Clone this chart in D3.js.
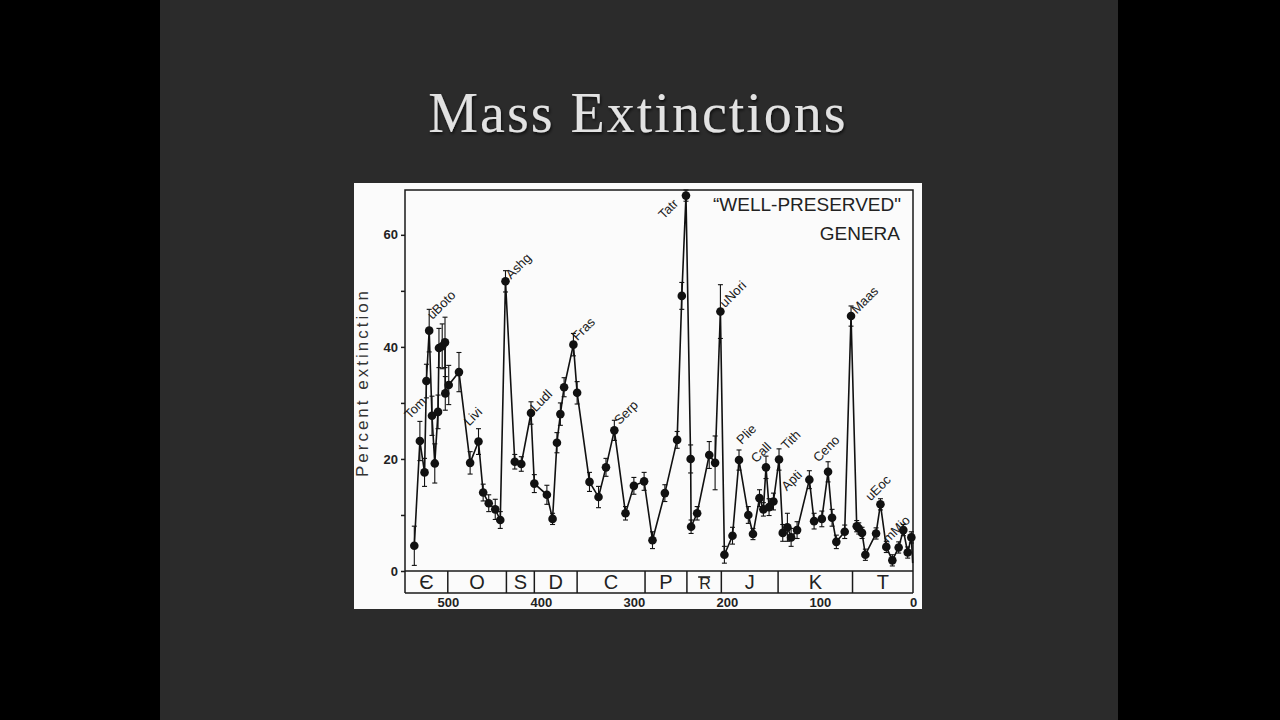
<!DOCTYPE html>
<html>
<head>
<meta charset="utf-8">
<script src="https://cdn.jsdelivr.net/npm/d3@7"></script>
<style>
  body { margin: 0; background: #000; }
  svg { display: block; }
</style>
</head>
<body>
<div id="chart"></div>
<script>
// ages (Myr before present), percent of genera extinct, half error bar
const ages = [536, 530, 525, 523, 520, 517, 514, 510.5, 509.5, 506, 503, 502.7, 499, 488, 476, 467, 462, 456, 449, 443.6,
              438, 428, 421, 410.6, 407, 393.5, 387.4, 382.7, 379, 375, 365, 361, 347.7, 338, 330, 321, 309, 300, 289, 280,
              266.7, 253.5, 248.5, 244, 239, 238.5, 232, 219, 212.7, 207, 202.7, 194, 187, 177, 172, 165, 160.8, 158, 154.7, 150,
              144, 140, 135, 131, 124.6, 111.4, 106.3, 98, 91.3, 87, 82.4, 73.4, 66.6, 60.5, 58.3, 54.8, 51.2, 39.7, 35, 28.7,
              22.2, 15.4, 10.4, 5.7, 1.8, 0.3];
const pcts = [4.5, 23.2, 17.6, 33.9, 42.9, 27.7, 19.2, 28.4, 39.8, 40.1, 40.8, 31.7, 33.2, 35.5, 19.3, 23.1, 14.0, 12.1, 11.0, 9.1,
              51.7, 19.5, 19.1, 28.2, 15.6, 13.6, 9.3, 22.9, 28.0, 32.8, 40.4, 31.8, 15.9, 13.2, 18.5, 25.1, 10.3, 15.2, 16.0, 5.5,
              13.9, 23.4, 49.1, 67.0, 20.0, 7.9, 10.3, 20.7, 19.3, 46.3, 2.9, 6.3, 19.8, 10.0, 6.6, 13.0, 11.0, 18.5, 11.4, 12.4,
              19.9, 6.8, 7.8, 6.0, 7.3, 16.3, 8.9, 9.3, 17.7, 9.5, 5.2, 7.0, 45.5, 8.0, 7.6, 6.8, 2.9, 6.7, 11.9, 4.3,
              1.9, 4.2, 7.3, 3.3, 6.0, 1.4];
const errs = [3.5, 3.5, 2.5, 3, 3.8, 3.5, 3.5, 3, 3.5, 4, 4.5, 3, 3.5, 3.5, 2, 2.3, 1.5, 1.5, 1.8, 1.5,
              1.9, 1.3, 1.3, 2, 1.6, 1.7, 1, 1.8, 2, 1.7, 2, 2, 1.7, 1.9, 1.6, 1.8, 1.2, 1.5, 1.6, 1.5,
              1.5, 1.5, 2.4, 1, 2.5, 1.2, 1.2, 2.4, 4.8, 4.8, 1.5, 1.5, 1.8, 1.5, 1, 1.5, 1.2, 2, 1.5, 1.5,
              1.9, 1.5, 2.5, 1.6, 1.5, 1.6, 1.4, 1.4, 1.8, 1.5, 1.2, 1.2, 1.8, 1, 1, 1, 1, 1, 1, 1,
              1, 1, 1, 1, 1, 0];

// stage names written beside the peaks, placed in data units
const peakNames = ["Tom", "uBoto", "Livi", "Ashg", "Ludl", "Fras", "Serp", "Tatr", "uNori",
                   "Plie", "Call", "Tith", "Apti", "Ceno", "Maas", "uEoc", "mMio"];
const peakAges = [541, 516.5, 477, 432, 405.6, 360.6, 315.4, 268, 202, 184, 168.6, 136, 135.6, 101.7, 60.5, 45.5, 26.5];
const peakPcts = [27, 44.8, 25.8, 52, 28.3, 41, 26, 62.7, 46.9, 22.5, 19.2, 21.5, 14.2, 19.3, 45.8, 12.4, 4.9];

// geologic periods along the time axis
const periodNames = ["Є", "O", "S", "D", "C", "P", "TR", "J", "K", "T"];
const periodBounds = [546, 500, 437, 407, 361, 288, 243, 206, 145, 65, 0];

const yTicks = [0, 10, 20, 30, 40, 50, 60];
const yLabels = [0, 20, 40, 60];
const xTicks = [500, 400, 300, 200, 100, 0];


class ExtinctionChart {
    constructor(container, box) {
        this.container = container;
        this.box = box;
        this.svg = null;
        this.setUpSVG();
        this.x = d3.scaleLinear().domain([546, 0]).range([box.left, box.right]);
        this.y = d3.scaleLinear().domain([0, 68]).range([box.bottom, box.top]);
        this.drawSlide();
        this.drawFrame();
        this.drawAxes();
        this.drawSeries();
        this.drawLabels();
    }

    setUpSVG() {
        this.svg = this.container.append("svg")
            .attr("width", 1280)
            .attr("height", 720)
            .attr("viewBox", "0 0 1280 720");
    }

    // dark slide with title and the white scanned figure
    drawSlide() {
        this.svg.append("rect").attr("width", 1280).attr("height", 720).attr("fill", "#000");
        this.svg.append("rect")
            .attr("x", 160).attr("y", 0)
            .attr("width", 958).attr("height", 720)
            .attr("fill", "#2b2b2b");

        const defs = this.svg.append("defs");
        defs.append("filter").attr("id", "shadow")
            .append("feDropShadow")
            .attr("dx", 1).attr("dy", 2).attr("stdDeviation", 1.5)
            .attr("flood-color", "#000").attr("flood-opacity", 0.7);

        this.svg.append("text")
            .attr("x", 638).attr("y", 132)
            .attr("text-anchor", "middle")
            .attr("font-family", "'Liberation Serif', 'DejaVu Serif', serif")
            .attr("font-size", 56)
            .attr("letter-spacing", 2)
            .attr("fill", "#e2e2e2")
            .attr("filter", "url(#shadow)")
            .text("Mass Extinctions");

        this.svg.append("rect")
            .attr("x", 354).attr("y", 183)
            .attr("width", 568).attr("height", 426)
            .attr("fill", "#fbfbfb");
    }

    drawFrame() {
        const b = this.box;
        const g = this.svg.append("g")
            .attr("stroke", "#1a1a1a")
            .attr("stroke-width", 1.5)
            .attr("fill", "none");

        g.append("path").attr("d", `M${b.left},${b.band}V${b.top}H${b.right}V${b.band}`);
        g.append("line").attr("x1", b.left).attr("x2", b.right).attr("y1", b.bottom).attr("y2", b.bottom);
        g.append("line").attr("x1", b.left).attr("x2", b.right).attr("y1", b.band).attr("y2", b.band);

        // period dividers inside the band
        g.selectAll(".divider")
            .data(periodBounds.slice(1, -1))
            .enter().append("line")
            .attr("x1", d => this.x(d)).attr("x2", d => this.x(d))
            .attr("y1", b.bottom).attr("y2", b.band);

        const names = this.svg.append("g")
            .attr("font-family", "'Liberation Sans Narrow', 'Liberation Sans', Arial, sans-serif")
            .attr("font-size", 20)
            .attr("fill", "#222")
            .attr("text-anchor", "middle");

        periodNames.forEach((name, i) => {
            const cx = (this.x(periodBounds[i]) + this.x(periodBounds[i + 1])) / 2;
            if (name === "TR") {
                // Triassic sign: an R under a T crossbar
                names.append("text").attr("x", cx + 1).attr("y", b.band - 4)
                    .attr("font-size", 16).text("R");
                names.append("line")
                    .attr("x1", cx - 6).attr("x2", cx + 6)
                    .attr("y1", b.bottom + 6).attr("y2", b.bottom + 6)
                    .attr("stroke", "#222").attr("stroke-width", 1.6);
                names.append("line")
                    .attr("x1", cx - 2.5).attr("x2", cx - 2.5)
                    .attr("y1", b.bottom + 6).attr("y2", b.bottom + 9)
                    .attr("stroke", "#222").attr("stroke-width", 1.6);
            } else {
                names.append("text").attr("x", cx).attr("y", b.band - 4).text(name);
            }
        });
    }

    drawAxes() {
        const b = this.box;
        const yAxis = d3.axisLeft(this.y)
            .tickValues(yTicks)
            .tickSize(4)
            .tickPadding(3)
            .tickFormat(d => yLabels.includes(d) ? d : "");

        const yg = this.svg.append("g")
            .attr("transform", `translate(${b.left},0)`)
            .call(yAxis);
        yg.select(".domain").remove();
        yg.selectAll("line").attr("stroke", "#1a1a1a").attr("stroke-width", 1.5);
        yg.selectAll("text")
            .attr("font-family", "'Liberation Sans', Arial, sans-serif")
            .attr("font-size", 13).attr("font-weight", "bold").attr("fill", "#222");

        const xAxis = d3.axisBottom(this.x)
            .tickValues(xTicks)
            .tickSize(0)
            .tickPadding(5);

        const xg = this.svg.append("g")
            .attr("transform", `translate(0,${b.band})`)
            .call(xAxis);
        xg.select(".domain").remove();
        xg.selectAll("text")
            .attr("font-family", "'Liberation Sans', Arial, sans-serif")
            .attr("font-size", 13).attr("font-weight", "bold").attr("fill", "#222");

        this.svg.append("text")
            .attr("transform", `translate(368,${(b.top + b.bottom) / 2 + 2}) rotate(-90)`)
            .attr("text-anchor", "middle")
            .attr("font-family", "'Liberation Sans', Arial, sans-serif")
            .attr("font-size", 17)
            .attr("letter-spacing", 3)
            .attr("fill", "#333")
            .text("Percent extinction");

        this.svg.append("text")
            .attr("x", 901).attr("y", 211)
            .attr("text-anchor", "end")
            .attr("font-family", "'Liberation Sans', Arial, sans-serif")
            .attr("font-size", 19)
            .attr("fill", "#222")
            .text("“WELL-PRESERVED\"");

        this.svg.append("text")
            .attr("x", 900).attr("y", 240)
            .attr("text-anchor", "end")
            .attr("font-family", "'Liberation Sans', Arial, sans-serif")
            .attr("font-size", 19)
            .attr("fill", "#222")
            .text("GENERA");
    }

    drawSeries() {
        const idx = d3.range(ages.length);
        const line = d3.line()
            .x(i => this.x(ages[i]))
            .y(i => this.y(pcts[i]));

        this.svg.append("path")
            .datum(idx)
            .attr("d", line)
            .attr("fill", "none")
            .attr("stroke", "#111")
            .attr("stroke-width", 1.6);

        // error bars with small caps
        const bars = this.svg.append("g")
            .attr("stroke", "#111")
            .attr("stroke-width", 1.1)
            .selectAll("g")
            .data(idx.filter(i => errs[i] > 0))
            .enter().append("g");

        bars.append("line")
            .attr("x1", i => this.x(ages[i])).attr("x2", i => this.x(ages[i]))
            .attr("y1", i => this.y(pcts[i] - errs[i])).attr("y2", i => this.y(pcts[i] + errs[i]));
        [-1, 1].forEach(s => {
            bars.append("line")
                .attr("x1", i => this.x(ages[i]) - 2.5).attr("x2", i => this.x(ages[i]) + 2.5)
                .attr("y1", i => this.y(pcts[i] + s * errs[i])).attr("y2", i => this.y(pcts[i] + s * errs[i]));
        });

        this.svg.append("g")
            .selectAll("circle")
            .data(idx.slice(0, -1))
            .enter().append("circle")
            .attr("cx", i => this.x(ages[i]))
            .attr("cy", i => this.y(pcts[i]))
            .attr("r", 4.3)
            .attr("fill", "#111");
    }

    drawLabels() {
        this.svg.append("g")
            .selectAll("text")
            .data(peakNames)
            .enter().append("text")
            .attr("transform", (d, i) => `translate(${this.x(peakAges[i])},${this.y(peakPcts[i])}) rotate(-45)`)
            .attr("font-family", "'Liberation Sans', Arial, sans-serif")
            .attr("font-size", 13)
            .attr("fill", "#1a1a1a")
            .text(d => d);
    }

} // END CLASS


new ExtinctionChart(d3.select("#chart"), { left: 405, right: 913, top: 190, bottom: 571, band: 593 });
</script>
</body>
</html>
